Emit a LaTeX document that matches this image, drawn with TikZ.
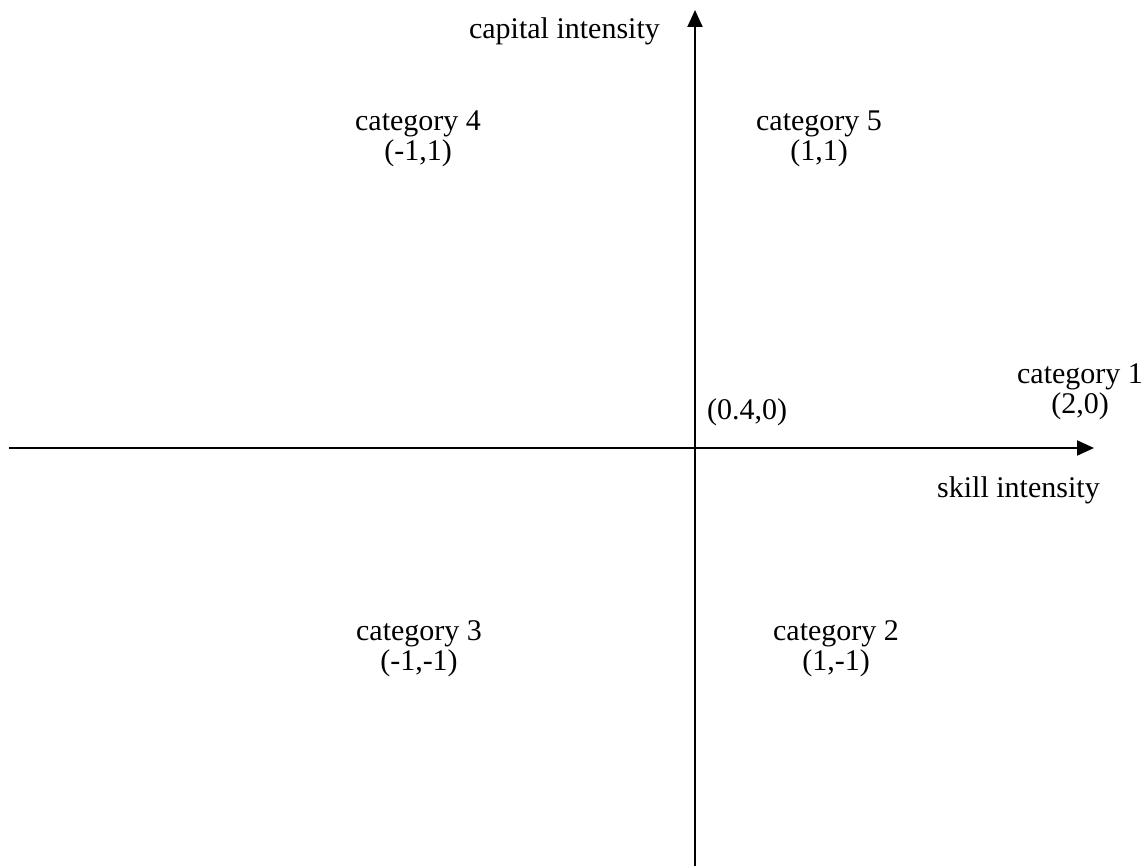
\documentclass[tikz,border=0pt]{standalone}
\usepackage{fontspec}
\setmainfont{Liberation Serif}
\usepackage{tikz}
\usetikzlibrary{arrows.meta}

\begin{document}
\begin{tikzpicture}[x=1pt, y=-1pt,
  axis/.style={line width=2pt, -{Triangle[length=17pt, width=15pt]}},
  catlabel/.style={align=center, inner sep=0pt, font={\fontsize{30}{30}\selectfont}},
  axlabel/.style={inner sep=0pt, font={\fontsize{30}{30}\selectfont}}]
  \useasboundingbox (0,0) rectangle (1147,866);

  % End points of the two axes
  \coordinate (xleft) at (9, 448);
  \coordinate (xright) at (1094, 448);
  \coordinate (ybottom) at (695, 866);
  \coordinate (ytop) at (695, 10);

  % Draw the axes
  \draw[axis] (xleft) -- (xright);
  \draw[axis] (ybottom) -- (ytop);

  % Axis names
  \node[axlabel, anchor=base east] (capital) at (660, 39) {capital intensity};
  \node[axlabel, anchor=base west] (skill) at (937, 497) {skill intensity};
  \node[axlabel, anchor=base west] (origin) at (707, 419) {(0.4,0)};

  % The five categories
  \node[catlabel] (cat1) at (1080, 392) {category 1\\(2,0)};
  \node[catlabel] (cat2) at (836, 649) {category 2\\(1,-1)};
  \node[catlabel] (cat3) at (419, 649) {category 3\\(-1,-1)};
  \node[catlabel] (cat4) at (418, 139) {category 4\\(-1,1)};
  \node[catlabel] (cat5) at (819, 139) {category 5\\(1,1)};

\end{tikzpicture}
\end{document}
